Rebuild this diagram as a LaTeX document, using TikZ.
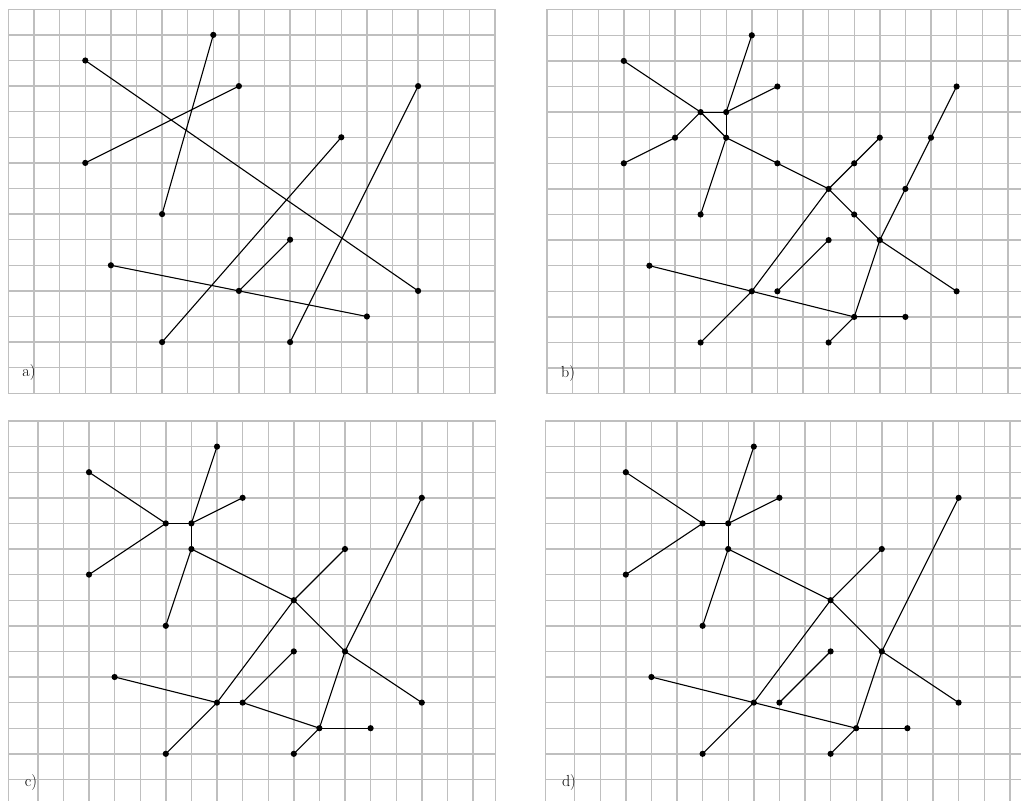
\documentclass[tikz,border=0pt]{standalone}
\begin{document}
\tikzset{
 gridln/.style={draw=gray!50, line width=1.4pt},
 edge/.style={black, line width=1.1pt},
 dot/.style={circle, fill=black, inner sep=0pt, minimum size=6.2pt},
 lbl/.style={font=\fontsize{16}{18}\selectfont, inner sep=0pt}
}
\begin{tikzpicture}[x=1pt,y=-1pt]
\useasboundingbox (0,0) rectangle (1021,801);
\clip (0,0) rectangle (1021,801);
% ---------- panel a ----------
\begin{scope}[xshift=8.5pt, yshift=-9.3pt, x=25.6pt, y=-25.6pt]
 \foreach \k in {1,...,18} \draw[gridln] (\k,0) -- (\k,15);
 \foreach \k in {1,...,14} \draw[gridln] (0,\k) -- (19,\k);
 \draw[gridln] (0,0) rectangle (19,15);
 \foreach \i/\j in {3/2,16/11,8/1,6/8,9/3,3/6,13/5,6/13,16/3,11/13,11/9,9/11,4/10,14/12}
   \node[dot] (a-\i-\j) at (\i,\j) {};
 \foreach \p/\q in {3-2/16-11, 8-1/6-8, 9-3/3-6, 13-5/6-13, 16-3/11-13, 11-9/9-11, 4-10/14-12}
   \draw[edge] (a-\p.center) -- (a-\q.center);
 \node[lbl] (la) at (0.8,14.2) {a)};
\end{scope}
% ---------- panel b ----------
\begin{scope}[xshift=547pt, yshift=-9.7pt, x=25.6pt, y=-25.6pt]
 \foreach \k in {1,...,19} \draw[gridln] (\k,0) -- (\k,15);
 \foreach \k in {1,...,14} \draw[gridln] (0,\k) -- (19.5,\k);
 \draw[gridln] (0,0) rectangle (19.5,15);
 \foreach \i/\j in {3/2,6/4,7/4,8/1,9/3,5/5,3/6,7/5,6/8,9/6,11/7,12/6,13/5,12/8,13/9,14/7,15/5,16/3,16/11,11/9,9/11,8/11,4/10,12/12,14/12,6/13,11/13}
   \node[dot] (b-\i-\j) at (\i,\j) {};
 \foreach \p/\q in {3-2/6-4, 6-4/7-5, 7-5/9-6, 9-6/11-7, 11-7/12-8, 12-8/13-9, 13-9/16-11,
   8-1/7-4, 7-4/7-5, 7-5/6-8,
   9-3/7-4, 7-4/6-4, 6-4/5-5, 5-5/3-6,
   13-5/12-6, 12-6/11-7, 11-7/8-11, 8-11/6-13,
   16-3/15-5, 15-5/14-7, 14-7/13-9, 13-9/12-12, 12-12/11-13,
   11-9/9-11,
   4-10/8-11, 8-11/12-12, 12-12/14-12}
   \draw[edge] (b-\p.center) -- (b-\q.center);
 \node[lbl] (lb) at (0.82,14.2) {b)};
\end{scope}
% ---------- panel c ----------
\begin{scope}[xshift=12.2pt, yshift=-421pt, x=25.6pt, y=-25.6pt]
 \foreach \k in {1,...,18} \draw[gridln] (\k,0) -- (\k,16);
 \foreach \k in {1,...,15} \draw[gridln] (-0.14,\k) -- (18.89,\k);
 \draw[gridln] (-0.14,0) rectangle (18.89,16);
 \foreach \i/\j in {3/2,8/1,9/3,6/4,7/4,7/5,3/6,6/8,11/7,13/5,16/3,13/9,11/9,16/11,4/10,8/11,9/11,12/12,14/12,6/13,11/13}
   \node[dot] (c-\i-\j) at (\i,\j) {};
 \foreach \p/\q in {3-2/6-4, 6-4/7-4, 7-4/8-1, 7-4/9-3, 6-4/3-6, 7-4/7-5, 7-5/6-8, 7-5/11-7,
   11-7/13-5, 11-7/13-9, 13-9/16-11, 16-3/13-9, 13-9/12-12, 11-7/8-11, 8-11/6-13,
   4-10/8-11, 8-11/9-11, 9-11/11-9, 9-11/12-12, 12-12/14-12, 12-12/11-13}
   \draw[edge] (c-\p.center) -- (c-\q.center);
 \node[lbl] (lc) at (0.73,14.14) {c)};
\end{scope}
% ---------- panel d ----------
\begin{scope}[xshift=549pt, yshift=-421pt, x=25.6pt, y=-25.6pt]
 \foreach \k in {1,...,19} \draw[gridln] (\k,0) -- (\k,16);
 \foreach \k in {1,...,15} \draw[gridln] (-0.14,\k) -- (19.5,\k);
 \draw[gridln] (-0.14,0) rectangle (19.5,16);
 \foreach \i/\j in {3/2,8/1,9/3,6/4,7/4,7/5,3/6,6/8,11/7,13/5,16/3,13/9,11/9,16/11,4/10,8/11,9/11,12/12,14/12,6/13,11/13}
   \node[dot] (d-\i-\j) at (\i,\j) {};
 \foreach \p/\q in {3-2/6-4, 6-4/7-4, 7-4/8-1, 7-4/9-3, 6-4/3-6, 7-4/7-5, 7-5/6-8, 7-5/11-7,
   11-7/13-5, 11-7/13-9, 13-9/16-11, 16-3/13-9, 13-9/12-12, 11-7/8-11, 8-11/6-13,
   4-10/8-11, 8-11/12-12, 9-11/11-9, 12-12/14-12, 12-12/11-13}
   \draw[edge] (d-\p.center) -- (d-\q.center);
 \node[lbl] (ld) at (0.78,14.14) {d)};
\end{scope}
\end{tikzpicture}
\end{document}
